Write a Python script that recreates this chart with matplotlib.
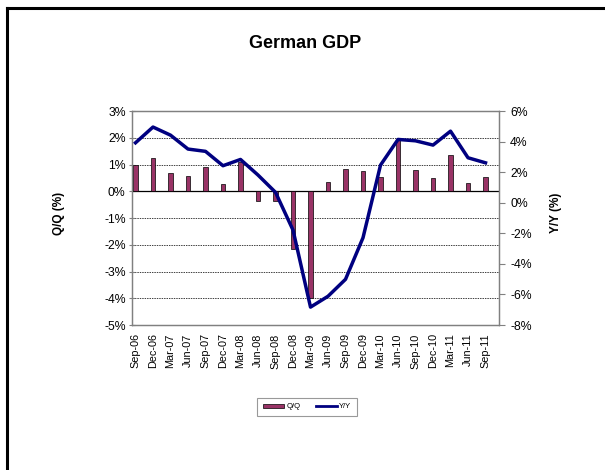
import matplotlib
matplotlib.use('Agg')
import matplotlib.pyplot as plt
from matplotlib.patches import Patch
from matplotlib.lines import Line2D
from matplotlib.ticker import FuncFormatter
import numpy as np

plt.rcParams['font.family'] = ['Liberation Sans', 'DejaVu Sans']

quarters = ['Sep-06', 'Dec-06', 'Mar-07', 'Jun-07', 'Sep-07', 'Dec-07', 'Mar-08',
            'Jun-08', 'Sep-08', 'Dec-08', 'Mar-09', 'Jun-09', 'Sep-09', 'Dec-09',
            'Mar-10', 'Jun-10', 'Sep-10', 'Dec-10', 'Mar-11', 'Jun-11', 'Sep-11']
qq = [0.97, 1.24, 0.67, 0.58, 0.89, 0.26, 1.09, -0.37, -0.37, -2.16, -3.99,
      0.34, 0.83, 0.75, 0.52, 1.96, 0.81, 0.50, 1.35, 0.29, 0.52]
yy = [3.92, 4.95, 4.42, 3.51, 3.36, 2.42, 2.83, 1.81, 0.68, -1.79, -6.83,
      -6.12, -5.01, -2.29, 2.46, 4.14, 4.05, 3.77, 4.68, 2.94, 2.61]

bar_col = '#993366'
line_col = '#000080'
spine_col = '#808080'

fig = plt.figure(figsize=(6.05, 4.70), dpi=100)
ax = fig.add_axes([132/605, 1-325/470, 367/605, 214/470])
ax2 = ax.twinx()

x = np.arange(len(quarters))
ax.bar(x, qq, width=0.28, color=bar_col, edgecolor='black', linewidth=0.5, zorder=3)
ax.axhline(0, color='black', lw=0.9, zorder=2)
ax2.plot(x, yy, color=line_col, lw=2.5, zorder=4)

ax.set_xlim(-0.2, 20.77)
ax.set_ylim(-5, 3)
ax.set_yticks(np.arange(-5, 4, 1))
ax2.set_ylim(-8, 6)
ax2.set_yticks(np.arange(-8, 7, 2))
pct = FuncFormatter(lambda v, p: '%d%%' % v)
ax.yaxis.set_major_formatter(pct)
ax2.yaxis.set_major_formatter(pct)

ax.set_xticks(x)
ax.set_xticklabels(quarters, rotation=90, fontsize=7.8)
ax.tick_params(axis='x', length=0, pad=6)
ax.tick_params(axis='y', labelsize=8.8, direction='inout', length=5, color=spine_col, pad=2)
ax2.tick_params(axis='y', labelsize=8.8, direction='out', length=4, color=spine_col, pad=4)

for a in (ax, ax2):
    for s in a.spines.values():
        s.set_color(spine_col)
        s.set_linewidth(0.9)

ax.grid(axis='y', color='#404040', linestyle=(0, (1.5, 1)), lw=0.7, zorder=1)
ax.set_axisbelow(True)

fig.text(305/605, 1-43/470, 'German GDP', ha='center', va='center',
         fontsize=13, fontweight='bold')
fig.text(59/605, 1-213/470, 'Q/Q (%)', rotation=90, ha='center', va='center',
         fontsize=8.5, fontweight='bold')
fig.text(556/605, 1-213/470, 'Y/Y (%)', rotation=90, ha='center', va='center',
         fontsize=8.5, fontweight='bold')

handles = [Patch(facecolor=bar_col, edgecolor='black', linewidth=0.5),
           Line2D([0], [0], color=line_col, lw=2)]
leg = fig.legend(handles, ['Q/Q', 'Y/Y'], loc='center', bbox_to_anchor=(307/605, 1-407/470),
                 ncol=2, fontsize=5.5, frameon=True, fancybox=False,
                 handlelength=2.8, handleheight=0.35, columnspacing=2.0,
                 handletextpad=0.3, borderpad=0.7)
leg.get_frame().set_edgecolor('#808080')
leg.get_frame().set_linewidth(0.8)

# outer chart border (left and top only visible)
fig.add_artist(Line2D([7/605, 7/605], [0, 1-8/470], color='black', lw=2.2))
fig.add_artist(Line2D([7/605, 1], [1-8/470, 1-8/470], color='black', lw=2.2))

fig.savefig('out.png', dpi=100)
